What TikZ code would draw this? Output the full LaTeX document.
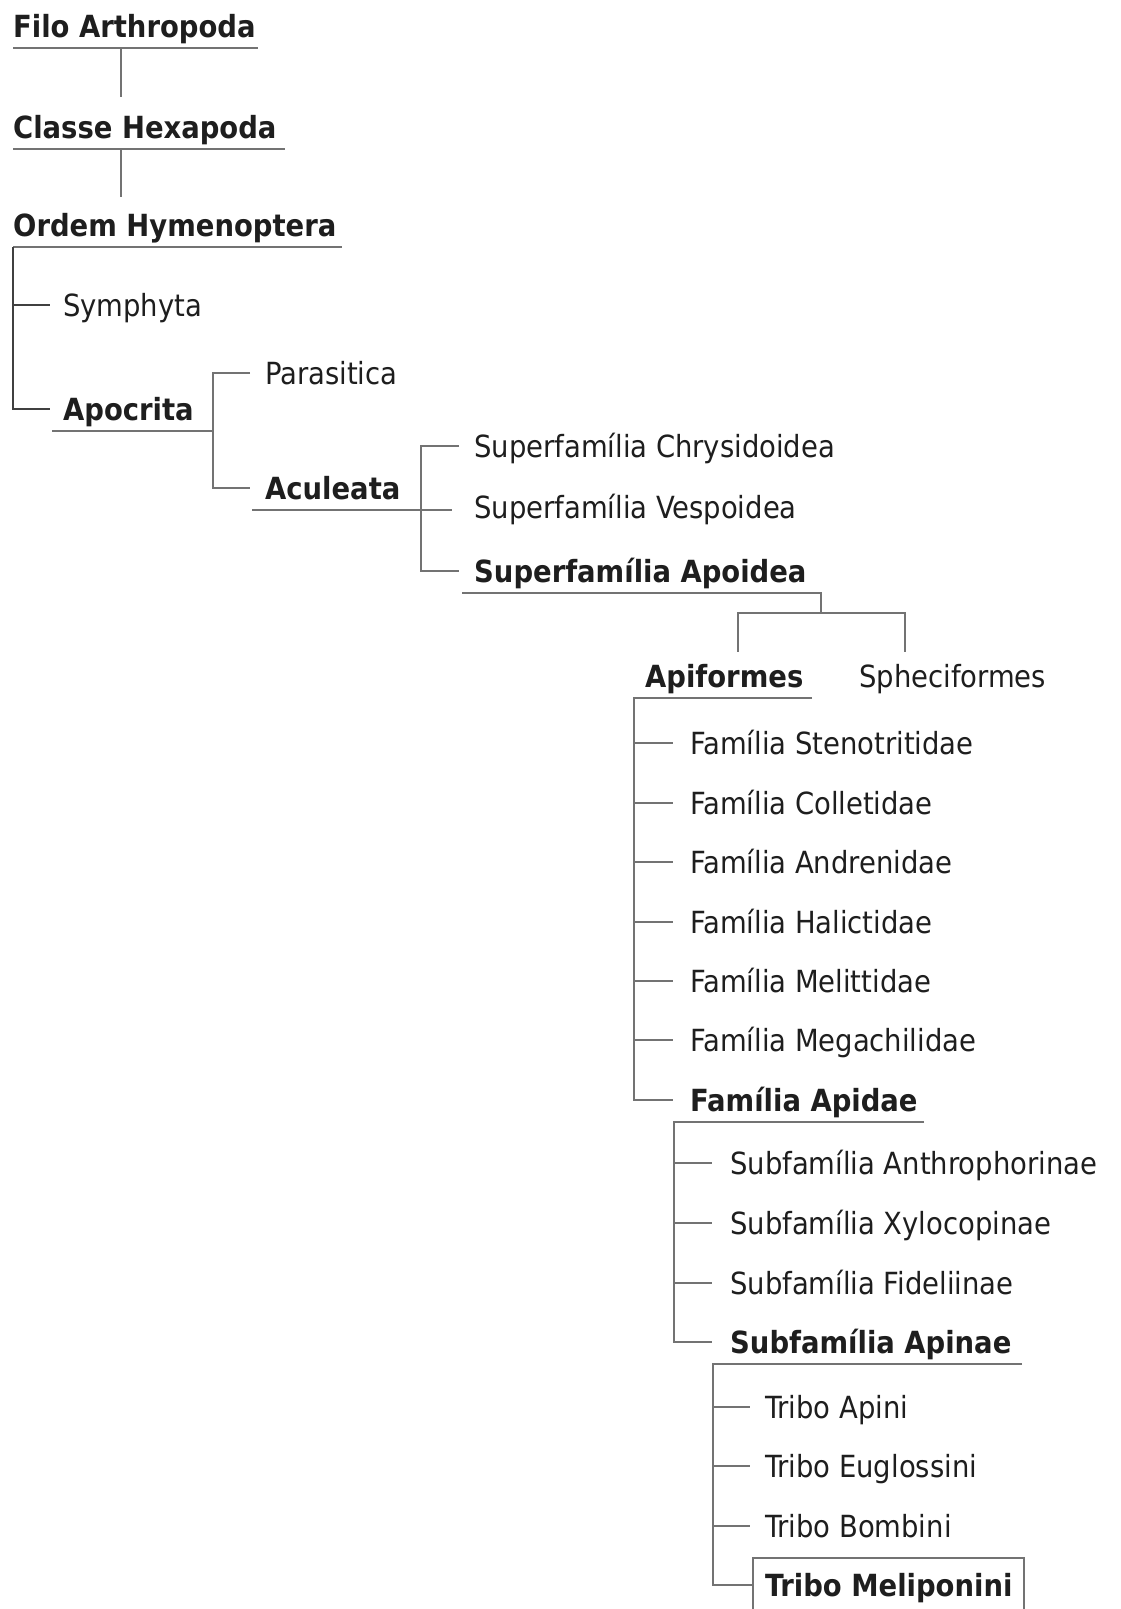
\documentclass[tikz,border=0pt]{standalone}
\usepackage{fontspec}
\setmainfont{DejaVu Sans Condensed}
\usepackage{tikz}

\definecolor{ink}{RGB}{30,30,30}
\definecolor{wire}{RGB}{115,115,115}
\newcommand{\taxfont}{\fontsize{30.5}{33}\selectfont}

\tikzstyle{taxon} = [anchor=west, inner sep=0pt, text height=22pt, text depth=0pt,
    text=ink, font=\taxfont]
\tikzstyle{rank} = [taxon, text height=33pt, text depth=11pt, font=\taxfont\bfseries]
\tikzstyle{tree} = [draw=wire, line width=2pt]

\begin{document}
\begin{tikzpicture}[x=1pt,y=-1pt]
  \useasboundingbox (0,0) rectangle (1121,1609);

  \node[rank]  (filo)       at (13,26)   {Filo Arthropoda};
  \node[rank]  (classe)     at (13,127)  {Classe Hexapoda};
  \node[rank]  (ordem)      at (13,225)  {Ordem Hymenoptera};
  \node[taxon] (symphyta)   at (63,305)  {Symphyta};
  \node[rank]  (apocrita)   at (63,409)  {Apocrita};
  \node[taxon] (parasitica) at (265,373) {Parasitica};
  \node[rank]  (aculeata)   at (265,488) {Aculeata};
  \node[taxon] (chrysid)    at (474,446) {Superfamília Chrysidoidea};
  \node[taxon] (vespoid)    at (474,507) {Superfamília Vespoidea};
  \node[rank]  (apoidea)    at (474,571) {Superfamília Apoidea};
  \node[rank]  (apiformes)  at (645,676) {Apiformes};
  \node[taxon] (sphec)      at (859,676) {Spheciformes};
  \node[rank]  (apidae)     at (690,1100) {Família Apidae};
  \node[rank]  (apinae)     at (730,1342) {Subfamília Apinae};
  \node[rank, draw=wire, line width=2pt, inner xsep=12pt, inner ysep=5pt,
        minimum width=270pt] (melip) at (752,1585) {Tribo Meliponini};

  % filo -> classe -> ordem
  \draw[tree] (filo.south west) -- (filo.south -| 258,0);
  \draw[tree, shorten >=8pt] (filo.south -| 121,0) -- (classe.north -| 121,0);
  \draw[tree] (classe.south west) -- (classe.south -| 285,0);
  \draw[tree, shorten >=6pt] (classe.south -| 121,0) -- (ordem.north -| 121,0);
  \draw[tree] (ordem.south west) -- (ordem.south -| 342,0);
  \draw[tree, draw=ink!85] (ordem.south west) |- ([xshift=-13pt]symphyta.west);
  \draw[tree, draw=ink!85] (ordem.south west) |- ([xshift=-13pt]apocrita.west);

  % apocrita, aculeata
  \draw[tree] ([xshift=-11pt]apocrita.south west) -- (apocrita.south -| 213,0);
  \draw[tree] ([xshift=-15pt]parasitica.west) -| (apocrita.south -| 213,0)
      |- ([xshift=-15pt]aculeata.west);
  \draw[tree] ([xshift=-13pt]aculeata.south west) -- (aculeata.south -| 452,0);
  \draw[tree] ([xshift=-15pt]chrysid.west) -| (aculeata.south -| 421,0)
      |- ([xshift=-15pt]apoidea.west);

  % apoidea split
  \coordinate (split) at (821,613);
  \draw[tree] ([xshift=-12pt]apoidea.south west) -| (split);
  \draw[tree, shorten <=2pt, shorten >=13pt] (apiformes.north -| 738,0) |- (split)
      -| (sphec.north -| 905,0);

  % familias
  \coordinate (famtrunk) at ([xshift=-11pt]apiformes.south west);
  \draw[tree] (apiformes.south -| 812,0) -- (famtrunk) |- ([xshift=-17pt]apidae.west);
  \foreach \y/\name/\txt in {743/stenot/Stenotritidae, 803/collet/Colletidae,
      862/andren/Andrenidae, 922/halict/Halictidae, 981/melitt/Melittidae,
      1040/megach/Megachilidae} {
    \node[taxon] (\name) at (690,\y) {Família \txt};
    \draw[tree] (famtrunk |- \name.west) -- ([xshift=-17pt]\name.west);
  }

  % subfamilias
  \coordinate (subtrunk) at ([xshift=-16pt]apidae.south west);
  \draw[tree] (apidae.south -| 924,0) -- (subtrunk) |- ([xshift=-18pt]apinae.west);
  \foreach \y/\name/\txt in {1163/anthro/Anthrophorinae, 1223/xyloc/Xylocopinae,
      1283/fidel/Fideliinae} {
    \node[taxon] (\name) at (730,\y) {Subfamília \txt};
    \draw[tree] (subtrunk |- \name.west) -- ([xshift=-18pt]\name.west);
  }

  % tribos
  \coordinate (tritrunk) at ([xshift=-17pt]apinae.south west);
  \draw[tree] (apinae.south -| 1022,0) -- (tritrunk) |- (melip.west);
  \foreach \y/\name/\txt in {1407/apini/Apini, 1466/eugl/Euglossini, 1526/bomb/Bombini} {
    \node[taxon] (\name) at (765,\y) {Tribo \txt};
    \draw[tree] (tritrunk |- \name.west) -- ([xshift=-15pt]\name.west);
  }
\end{tikzpicture}
\end{document}
